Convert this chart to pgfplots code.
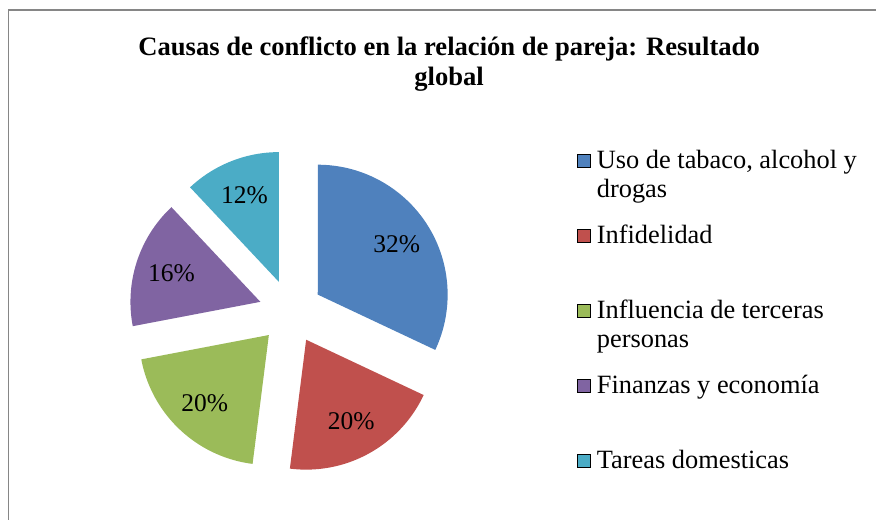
\documentclass[border=0pt]{standalone}
\usepackage{fontspec}
\setmainfont{Liberation Serif}
\usepackage{pgfplots}
\pgfplotsset{compat=1.18}
\definecolor{cA}{HTML}{4F81BD}
\definecolor{cB}{HTML}{C0504D}
\definecolor{cC}{HTML}{9BBB59}
\definecolor{cD}{HTML}{8064A2}
\definecolor{cE}{HTML}{4BACC6}
\definecolor{frame}{HTML}{868686}
\newcommand{\lt}[1]{\parbox[t]{280pt}{\raggedright #1}}
% data (percent)
\def\vA{32}\def\vB{20}\def\vC{20}\def\vD{16}\def\vE{12}
\pgfmathsetmacro\R{130}
\pgfmathsetmacro\Dx{32}
\pgfmathsetmacro\Cx{291}
\pgfmathsetmacro\Cy{208}
\pgfmathsetmacro\sA{90}
\pgfmathsetmacro\eA{\sA-3.6*\vA}
\pgfmathsetmacro\eB{\eA-3.6*\vB}
\pgfmathsetmacro\eC{\eB-3.6*\vC}
\pgfmathsetmacro\eD{\eC-3.6*\vD}
\pgfmathsetmacro\eE{\eD-3.6*\vE}
\pgfmathsetmacro\mA{(\sA+\eA)/2}
\pgfmathsetmacro\mB{(\eA+\eB)/2}
\pgfmathsetmacro\mC{(\eB+\eC)/2}
\pgfmathsetmacro\mD{(\eC+\eD)/2}
\pgfmathsetmacro\mE{(\eD+\eE)/2}
\pgfmathsetmacro\xA{\Cx+\Dx*cos(\mA)}\pgfmathsetmacro\yA{\Cy+\Dx*sin(\mA)}
\pgfmathsetmacro\xB{\Cx+\Dx*cos(\mB)}\pgfmathsetmacro\yB{\Cy+\Dx*sin(\mB)}
\pgfmathsetmacro\xC{\Cx+\Dx*cos(\mC)}\pgfmathsetmacro\yC{\Cy+\Dx*sin(\mC)}
\pgfmathsetmacro\xD{\Cx+\Dx*cos(\mD)}\pgfmathsetmacro\yD{\Cy+\Dx*sin(\mD)}
\pgfmathsetmacro\xE{\Cx+\Dx*cos(\mE)}\pgfmathsetmacro\yE{\Cy+\Dx*sin(\mE)}
\pgfmathsetmacro\L{0.72*\R}
\pgfmathsetmacro\lxA{\xA+\L*cos(\mA)}\pgfmathsetmacro\lyA{\yA+\L*sin(\mA)}
\pgfmathsetmacro\lxB{\xB+\L*cos(\mB)}\pgfmathsetmacro\lyB{\yB+\L*sin(\mB)}
\pgfmathsetmacro\lxC{\xC+\L*cos(\mC)}\pgfmathsetmacro\lyC{\yC+\L*sin(\mC)}
\pgfmathsetmacro\lxD{\xD+\L*cos(\mD)}\pgfmathsetmacro\lyD{\yD+\L*sin(\mD)}
\pgfmathsetmacro\lxE{\xE+\L*cos(\mE)}\pgfmathsetmacro\lyE{\yE+\L*sin(\mE)}
\begin{document}
\begin{tikzpicture}
\begin{axis}[
  hide axis, scale only axis, clip=false,
  width=877pt, height=520pt,
  xmin=0, xmax=877, ymin=0, ymax=520,
  legend style={at={(axis cs:577,369)}, anchor=north west, draw=none, fill=none,
    inner sep=0pt, outer sep=0pt, row sep=12pt, column sep=7pt,
    font=\fontsize{26.4}{28.5}\selectfont,
    cells={anchor=base west},
    nodes={inner sep=0pt, text height=18pt, text depth=45pt}},
  legend image code/.code={\draw[#1] (0pt,1.5pt) rectangle (13pt,14.5pt);},
]
\path (axis cs:0,0) rectangle (axis cs:877,520);
\addplot[fill=cA, draw=none, domain=\eA:\sA, samples=90, variable=\t]
  ({\xA+\R*cos(\t)},{\yA+\R*sin(\t)}) -- (axis cs:\xA,\yA) -- cycle;
\addlegendentry{\lt{Uso de tabaco, alcohol y\\drogas}}
\addplot[fill=cB, draw=none, domain=\eB:\eA, samples=60, variable=\t]
  ({\xB+\R*cos(\t)},{\yB+\R*sin(\t)}) -- (axis cs:\xB,\yB) -- cycle;
\addlegendentry{\lt{Infidelidad}}
\addplot[fill=cC, draw=none, domain=\eC:\eB, samples=60, variable=\t]
  ({\xC+\R*cos(\t)},{\yC+\R*sin(\t)}) -- (axis cs:\xC,\yC) -- cycle;
\addlegendentry{\lt{Influencia de terceras\\personas}}
\addplot[fill=cD, draw=none, domain=\eD:\eC, samples=50, variable=\t]
  ({\xD+\R*cos(\t)},{\yD+\R*sin(\t)}) -- (axis cs:\xD,\yD) -- cycle;
\addlegendentry{\lt{Finanzas y economía}}
\addplot[fill=cE, draw=none, domain=\eE:\eD, samples=40, variable=\t]
  ({\xE+\R*cos(\t)},{\yE+\R*sin(\t)}) -- (axis cs:\xE,\yE) -- cycle;
\addlegendentry{\lt{Tareas domesticas}}
\node[font=\fontsize{25.5}{28}\selectfont] at (axis cs:\lxA,\lyA) {32\%};
\node[font=\fontsize{25.5}{28}\selectfont] at (axis cs:\lxB,\lyB) {20\%};
\node[font=\fontsize{25.5}{28}\selectfont] at (axis cs:\lxC,\lyC) {20\%};
\node[font=\fontsize{25.5}{28}\selectfont] at (axis cs:\lxD,\lyD) {16\%};
\node[font=\fontsize{25.5}{28}\selectfont] at (axis cs:\lxE,\lyE) {12\%};
\node[font=\bfseries\fontsize{26.6}{30}\selectfont, anchor=base, inner sep=0pt] at (axis cs:449.5,464) {Causas de conflicto en la relación de pareja: Resultado};
\node[font=\bfseries\fontsize{26.6}{30}\selectfont, anchor=base, inner sep=0pt] at (axis cs:449.5,434) {global};
\draw[frame, line width=1.5pt] (axis cs:8.5,0) -- (axis cs:8.5,510) -- (axis cs:877,510);
\end{axis}
\end{tikzpicture}
\end{document}
